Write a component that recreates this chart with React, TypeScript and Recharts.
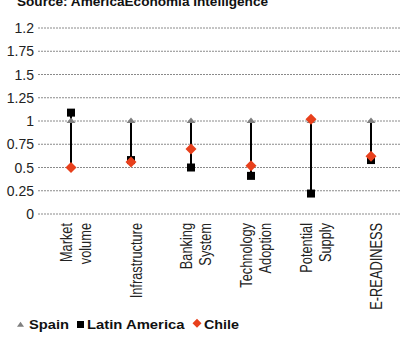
import React from 'react';
import { ComposedChart, Bar, Line, XAxis, YAxis, CartesianGrid } from 'recharts';

// Index components per market, Spain = 1 as the reference level
const categories = [
  'Market\nvolume',
  'Infrastructure',
  'Banking\nSystem',
  'Technology\nAdoption',
  'Potential\nSupply',
  'E-READINESS',
];
const spain = [1, 1, 1, 1, 1, 1];
const latinAmerica = [1.09, 0.58, 0.5, 0.41, 0.22, 0.58];
const chile = [0.5, 0.56, 0.7, 0.52, 1.02, 0.62];

const yTicks = [0, 0.25, 0.5, 0.75, 1, 1.25, 1.5, 1.75, 2];
const yTickLabels = ['0', '0.25', '0.5', '0.75', '1', '1.25', '1.5', '1.75', '1.2'];

const title = 'Source: AmericaEconomia Intelligence';
const legendNames = ['Spain', 'Latin America', 'Chile'];

const SPAIN_COLOR = '#7f7f7f';
const LATAM_COLOR = '#000000';
const CHILE_COLOR = '#e8401c';

const data = categories.map((category, i) => {
  const vals = [spain[i], latinAmerica[i], chile[i]];
  return {
    category,
    spain: spain[i],
    latam: latinAmerica[i],
    chile: chile[i],
    span: [Math.min(...vals), Math.max(...vals)],
  };
});

const regularFont = '"Liberation Sans", Arial, sans-serif';

const TriangleDot = (props: any) => {
  const { cx, cy } = props;
  if (cx == null || cy == null) return null;
  return (
    <polygon
      key={`t-${cx}`}
      points={`${cx - 4.5},${cy + 2} ${cx + 4.5},${cy + 2} ${cx},${cy - 3.5}`}
      fill={SPAIN_COLOR}
    />
  );
};

const SquareDot = (props: any) => {
  const { cx, cy } = props;
  if (cx == null || cy == null) return null;
  return <rect key={`s-${cx}`} x={cx - 4} y={cy - 4} width={8} height={8} fill={LATAM_COLOR} />;
};

const DiamondDot = (props: any) => {
  const { cx, cy } = props;
  if (cx == null || cy == null) return null;
  return (
    <polygon
      key={`d-${cx}`}
      points={`${cx},${cy - 5.5} ${cx + 5.5},${cy} ${cx},${cy + 5.5} ${cx - 5.5},${cy}`}
      fill={CHILE_COLOR}
    />
  );
};

const YTick = (props: any) => {
  const { x, y, payload } = props;
  const idx = yTicks.indexOf(payload.value);
  return (
    <text x={x} y={y} dy={5} textAnchor="end" fontSize={14} fill="#222" fontFamily={regularFont}>
      {idx >= 0 ? yTickLabels[idx] : payload.value}
    </text>
  );
};

// Category labels: rotated, condensed along the reading direction
const XTick = (props: any) => {
  const { x, y, payload } = props;
  const lines = String(payload.value).split('\n');
  const n = lines.length;
  return (
    <g transform={`translate(${x},${y}) rotate(-90) scale(0.8,1)`}>
      {lines.map((line, i) => (
        <text
          key={i}
          x={0}
          y={10.5 + (i - (n - 1) / 2) * 19}
          textAnchor="end"
          fontSize={16}
          fill="#222"
          fontFamily={regularFont}
        >
          {line}
        </text>
      ))}
    </g>
  );
};

export default function App() {
  return (
    <div
      style={{
        position: 'absolute',
        left: 0,
        top: 0,
        width: 400,
        height: 338,
        overflow: 'hidden',
        background: '#fff',
      }}
    >
      <ComposedChart
        width={401}
        height={338}
        data={data}
        margin={{ top: 28, right: 0, bottom: 0, left: 0 }}
        barCategoryGap={0}
      >
        <CartesianGrid vertical={false} stroke="#8a8a8a" strokeDasharray="2 1" />
        <XAxis
          dataKey="category"
          interval={0}
          axisLine={false}
          tickLine={false}
          tickSize={0}
          tickMargin={9}
          height={124}
          tick={<XTick />}
        />
        <YAxis
          domain={[0, 2]}
          ticks={yTicks}
          width={41}
          axisLine={false}
          tickSize={3}
          tickMargin={4}
          tickLine={{ stroke: '#8a8a8a', strokeDasharray: '2 1' }}
          tick={<YTick />}
          interval={0}
        />
        <Bar dataKey="span" barSize={2} fill="#000" isAnimationActive={false} />
        <Line
          dataKey="spain"
          stroke="none"
          dot={<TriangleDot />}
          activeDot={false}
          isAnimationActive={false}
        />
        <Line
          dataKey="latam"
          stroke="none"
          dot={<SquareDot />}
          activeDot={false}
          isAnimationActive={false}
        />
        <Line
          dataKey="chile"
          stroke="none"
          dot={<DiamondDot />}
          activeDot={false}
          isAnimationActive={false}
        />
      </ComposedChart>
      <svg
        width={400}
        height={338}
        style={{ position: 'absolute', left: 0, top: 0, pointerEvents: 'none' }}
      >
        <text
          x={17}
          y={6}
          fontSize={12.5}
          fontWeight="bold"
          fill="#111"
          fontFamily={regularFont}
          textLength={251}
          lengthAdjust="spacingAndGlyphs"
        >
          {title}
        </text>
        <g fontFamily={regularFont} fontSize={12.5} fontWeight="bold" fill="#111">
          <polygon points="17,326.7 24,326.7 20.5,321.7" fill={SPAIN_COLOR} />
          <text x={29} y={328.5} textLength={40} lengthAdjust="spacingAndGlyphs">
            {legendNames[0]}
          </text>
          <rect x={77} y={321} width={7} height={7} fill={LATAM_COLOR} />
          <text x={87} y={328.5} textLength={97.5} lengthAdjust="spacingAndGlyphs">
            {legendNames[1]}
          </text>
          <polygon points="197,318.8 201.5,323.3 197,327.8 192.5,323.3" fill={CHILE_COLOR} />
          <text x={204} y={328.5} textLength={35} lengthAdjust="spacingAndGlyphs">
            {legendNames[2]}
          </text>
        </g>
      </svg>
    </div>
  );
}
